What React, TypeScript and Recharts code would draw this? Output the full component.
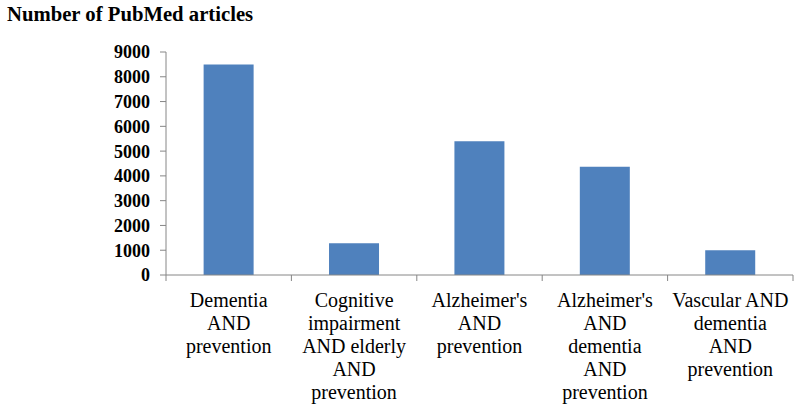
import React from "react";
import { BarChart, Bar, XAxis, YAxis } from "recharts";

const categories = [
  "Dementia\nAND\nprevention",
  "Cognitive\nimpairment\nAND elderly\nAND\nprevention",
  "Alzheimer's\nAND\nprevention",
  "Alzheimer's\nAND\ndementia\nAND\nprevention",
  "Vascular AND\ndementia\nAND\nprevention",
];
const articleCounts = [8500, 1280, 5400, 4370, 1000];
const yTicks = [0, 1000, 2000, 3000, 4000, 5000, 6000, 7000, 8000, 9000];
const title = "Number of PubMed articles";

const data = categories.map((c, i) => ({ name: c, value: articleCounts[i] }));

const W = 800;
const H = 413;
const LEFT = 166;
const RIGHT_M = 7;
const TOP = 52;
const AXIS_Y = 275;
const AXIS_COLOR = "#868686";
const FONT = '"Liberation Serif", "Times New Roman", serif';

function XTick(props: any) {
  const { x, y, payload, index, width, visibleTicksCount } = props;
  const count = visibleTicksCount || categories.length;
  const band = (width || W - LEFT - RIGHT_M) / count;
  const half = band / 2;
  const lines = String(payload.value).split("\n");
  return (
    <g>
      <line x1={x - half} x2={x - half} y1={y} y2={y + 6} stroke={AXIS_COLOR} strokeWidth={1} />
      {index === count - 1 && (
        <line x1={x + half} x2={x + half} y1={y} y2={y + 6} stroke={AXIS_COLOR} strokeWidth={1} />
      )}
      <text
        x={x}
        y={y + 32}
        textAnchor="middle"
        fill="#000"
        style={{ fontFamily: FONT, fontSize: 20, fontWeight: "normal" }}
      >
        {lines.map((l, i) => (
          <tspan key={i} x={x} dy={i === 0 ? 0 : 23} style={{ fontFamily: FONT }}>
            {l}
          </tspan>
        ))}
      </text>
    </g>
  );
}

export default function App() {
  return (
    <div style={{ position: "absolute", left: 0, top: 0, width: W, height: H, background: "#fff" }}>
      <svg style={{ position: "absolute", left: 0, top: 0 }} width={W} height={30}>
        <text x={7} y={21} style={{ fontFamily: FONT, fontWeight: "bold", fontSize: 20.7 }} fill="#000">
          {title}
        </text>
      </svg>
      <BarChart
        width={W}
        height={H}
        data={data}
        margin={{ top: TOP, right: RIGHT_M, bottom: 0, left: 0 }}
        barCategoryGap="30%"
      >
        <XAxis
          dataKey="name"
          height={H - AXIS_Y}
          interval={0}
          tickLine={false}
          tickSize={0}
          tickMargin={0}
          axisLine={{ stroke: AXIS_COLOR, strokeWidth: 1 }}
          tick={<XTick />}
        />
        <YAxis
          width={LEFT}
          domain={[0, 9000]}
          ticks={yTicks}
          interval={0}
          tickSize={6}
          tickMargin={10}
          axisLine={{ stroke: AXIS_COLOR, strokeWidth: 1 }}
          tickLine={{ stroke: AXIS_COLOR, strokeWidth: 1 }}
          tick={{ fill: "#000", fontFamily: FONT, fontWeight: "bold", fontSize: 18 }}
        />
        <Bar dataKey="value" fill="#4F81BD" isAnimationActive={false} />
      </BarChart>
    </div>
  );
}
